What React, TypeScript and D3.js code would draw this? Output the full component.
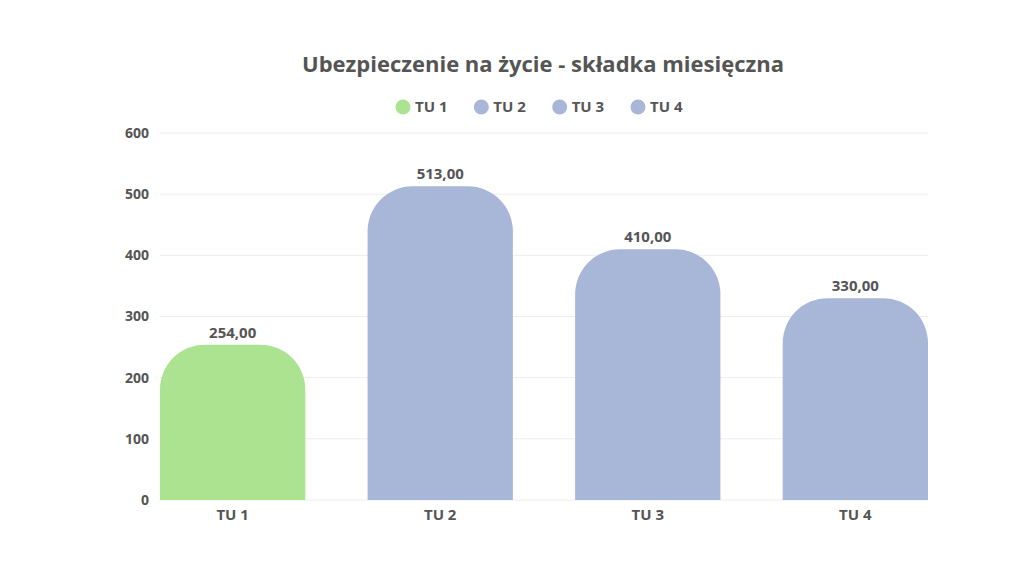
import React from 'react';
import * as d3 from 'd3';

const categories = ['TU 1', 'TU 2', 'TU 3', 'TU 4'];
const values = [254, 513, 410, 330];
const colors = ['#abe390', '#a8b6d7', '#a8b6d7', '#a8b6d7'];
const yTicks = [0, 100, 200, 300, 400, 500, 600];
const title = 'Ubezpieczenie na życie - składka miesięczna';

const W = 1024;
const H = 576;
const margin = { top: 133, right: 96, bottom: 76, left: 160 };
const FONT = '"Open Sans", sans-serif';
const TEXT = '#555555';

// bar with rounded top corners only
function barPath(x: number, y: number, w: number, h: number, r: number) {
  const rr = Math.min(r, w / 2, h);
  return `M${x},${y + h}V${y + rr}A${rr},${rr} 0 0 1 ${x + rr},${y}H${x + w - rr}A${rr},${rr} 0 0 1 ${x + w},${y + rr}V${y + h}Z`;
}

export default function App() {
  const x = d3
    .scaleBand<string>()
    .domain(categories)
    .range([margin.left, W - margin.right])
    .paddingInner(0.3)
    .paddingOuter(0);
  const y = d3
    .scaleLinear()
    .domain([0, 600])
    .range([H - margin.bottom, margin.top]);
  const fmt = (v: number) => v.toFixed(2).replace('.', ',');

  const legendX = d3.scalePoint<string>().domain(categories).range([403, 638]);

  return (
    <svg width={W} height={H} style={{ position: 'absolute', left: 0, top: 0, background: '#fff' }} fontFamily={FONT}>
      <text x={543} y={72} textAnchor="middle" fontSize={22} fontWeight={700} fill={TEXT}>
        {title}
      </text>
      {categories.map((c, i) => (
        <g key={c} transform={`translate(${legendX(c)},107)`}>
          <circle r={7.5} fill={colors[i]} />
          <text x={12} dy="0.35em" fontSize={15} fontWeight={700} fill={TEXT}>
            {c}
          </text>
        </g>
      ))}
      {yTicks.map((t) => (
        <g key={t}>
          <line x1={margin.left} x2={W - margin.right} y1={y(t)} y2={y(t)} stroke="#ececec" strokeWidth={1} />
          <text x={149} y={y(t)} dy="0.35em" textAnchor="end" fontSize={14} fontWeight={700} fill={TEXT}>
            {t}
          </text>
        </g>
      ))}
      {categories.map((c, i) => {
        const bx = x(c)!;
        const bw = x.bandwidth();
        const by = y(values[i]);
        return (
          <g key={c}>
            <path d={barPath(bx, by, bw, y(0) - by, 45)} fill={colors[i]} />
            <text x={bx + bw / 2} y={by - 7} textAnchor="middle" fontSize={15} fontWeight={700} fill={TEXT}>
              {fmt(values[i])}
            </text>
            <text x={bx + bw / 2} y={y(0) + 20} textAnchor="middle" fontSize={15} fontWeight={700} fill={TEXT}>
              {c}
            </text>
          </g>
        );
      })}
    </svg>
  );
}
